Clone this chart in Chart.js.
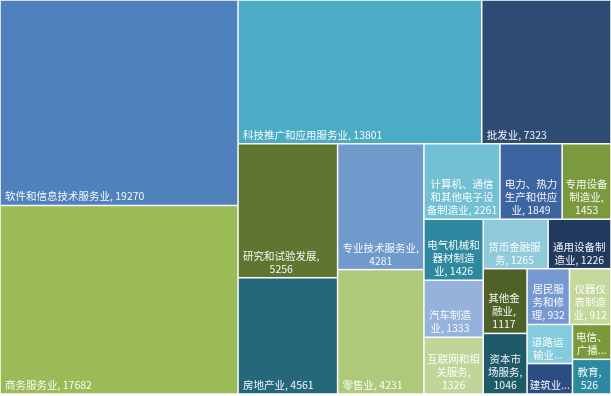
<!DOCTYPE html>
<html>
<head>
<meta charset="utf-8">
<script src="https://cdn.jsdelivr.net/npm/chart.js@4"></script>
<style>
    body { margin: 0; background: #ffffff; }
    #wrap { width: 611px; height: 396px; }
</style>
</head>
<body>
<div id="wrap"><canvas id="treeChart"></canvas></div>
<script>
// Industry categories and counts
const categories = [
    "软件和信息技术服务业", "商务服务业", "科技推广和应用服务业", "批发业",
    "研究和试验发展", "房地产业", "专业技术服务业", "零售业",
    "计算机、通信和其他电子设备制造业", "电力、热力生产和供应业", "专用设备制造业",
    "电气机械和器材制造业", "汽车制造业", "互联网和相关服务", "货币金融服务",
    "通用设备制造业", "其他金融业", "资本市场服务", "居民服务和修理", "仪器仪表制造业",
    "道路运输业", "建筑业", "电信、广播电视和卫星传输服务", "教育"
];
const values = [
    19270, 17682, 13801, 7323,
    5256, 4561, 4281, 4231,
    2261, 1849, 1453,
    1426, 1333, 1326, 1265,
    1226, 1117, 1046, 932, 912,
    700, 545, 530, 526
];
const colors = [
    "#4f81bd", "#9bbb59", "#4bacc6", "#2e4b74",
    "#5f7530", "#25687b", "#7099cc", "#afc97a",
    "#72c0d4", "#3b64a0", "#7b9a3e",
    "#2e889f", "#94b2dc", "#c0d597", "#8fcbdb",
    "#213a5f", "#4e6128", "#1f5a69", "#7898d2", "#c3d89a",
    "#84cbdc", "#2b4d82", "#7a9a3a", "#2c8aa0"
];

const FONT = "10.5px 'Noto Sans CJK SC', 'Noto Sans', sans-serif";
const LINE_H = 13;

// squarified layout, in pixel-proportional units
function worst(row, side) {
    const s = row.reduce((a, b) => a + b, 0);
    const mx = Math.max(...row), mn = Math.min(...row);
    return Math.max(side * side * mx / (s * s), (s * s) / (side * side * mn));
}

function squarify(areas, x, y, w, h) {
    const out = [];
    let i = 0;
    while (i < areas.length) {
        const side = Math.min(w, h);
        const row = [areas[i]];
        let j = i + 1;
        while (j < areas.length && worst(row.concat(areas[j]), side) < worst(row, side)) {
            row.push(areas[j]);
            j++;
        }
        const s = row.reduce((a, b) => a + b, 0);
        if (w >= h) {
            const cw = s / h;
            let cy = y;
            row.forEach(a => { out.push({ x: x, y: cy, w: cw, h: a / cw }); cy += a / cw; });
            x += cw; w -= cw;
        } else {
            const rh = s / w;
            let cx = x;
            row.forEach(a => { out.push({ x: cx, y: y, w: a / rh, h: rh }); cx += a / rh; });
            y += rh; h -= rh;
        }
        i = j;
    }
    return out;
}

function tokenize(name, value) {
    const tokens = [];
    for (const ch of name) {
        if ("、，,".includes(ch) && tokens.length) tokens[tokens.length - 1].s += ch;
        else tokens.push({ s: ch, sp: false });
    }
    tokens[tokens.length - 1].s += ",";
    tokens.push({ s: String(value), sp: true });
    return tokens;
}

function wrapLines(ctx, tokens, maxW) {
    const lines = [];
    let cur = "";
    tokens.forEach(t => {
        const piece = (t.sp && cur) ? " " + t.s : t.s;
        if (cur && ctx.measureText(cur + piece).width > maxW) {
            lines.push(cur);
            cur = t.s;
        } else {
            cur += piece;
        }
    });
    if (cur) lines.push(cur);
    return lines;
}

const treemapPlugin = {
    id: "treemapCells",
    afterDatasetsDraw(chart) {
        const ctx = chart.ctx;
        const xs = chart.scales.x, ys = chart.scales.y;
        const area = chart.chartArea;
        const W = area.right - area.left, H = area.bottom - area.top;
        const total = values.reduce((a, b) => a + b, 0);
        const order = values.map((v, i) => i).sort((a, b) => values[b] - values[a]);
        const rects = squarify(order.map(i => values[i] * W * H / total), 0, 0, W, H);

        const cells = rects.map((r, k) => {
            const i = order[k];
            return {
                i: i,
                x0: xs.getPixelForValue(r.x / W),
                x1: xs.getPixelForValue((r.x + r.w) / W),
                y0: ys.getPixelForValue(r.y / H),
                y1: ys.getPixelForValue((r.y + r.h) / H)
            };
        });

        ctx.save();
        cells.forEach(c => {
            ctx.fillStyle = colors[c.i];
            ctx.fillRect(c.x0 + 0.75, c.y0 + 0.75, c.x1 - c.x0 - 1.5, c.y1 - c.y0 - 1.5);
        });

        ctx.font = FONT;
        ctx.fillStyle = "rgba(255,255,255,0.95)";
        ctx.textBaseline = "middle";
        ctx.textAlign = "center";
        cells.forEach(c => {
            const w = c.x1 - c.x0, h = c.y1 - c.y0;
            const maxW = w - 4;
            let lines = wrapLines(ctx, tokenize(categories[c.i], values[c.i]), maxW);
            const maxLines = Math.max(1, Math.floor((h - 8) / LINE_H));
            if (lines.length > maxLines) {
                lines = lines.slice(0, maxLines);
                let last = lines[maxLines - 1].replace(/[,、\s]+$/, "");
                while (last && ctx.measureText(last + "...").width > maxW) last = last.slice(0, -1);
                lines[maxLines - 1] = last + "...";
            }
            const blockW = Math.max(...lines.map(l => ctx.measureText(l).width));
            const left = w > blockW + 10 ? c.x0 + 5 : c.x0 + (w - blockW) / 2;
            const cx = left + blockW / 2;
            ctx.save();
            ctx.beginPath();
            ctx.rect(c.x0 + 1, c.y0 + 1, w - 2, h - 2);
            ctx.clip();
            lines.forEach((l, n) => {
                const yy = c.y1 - 9 - (lines.length - 1 - n) * LINE_H;
                ctx.fillText(l, cx, yy);
            });
            ctx.restore();
        });
        ctx.restore();
    }
};

new Chart(document.getElementById("treeChart"), {
    type: "scatter",
    data: { datasets: [] },
    options: {
        responsive: true,
        maintainAspectRatio: false,
        animation: false,
        layout: { padding: { left: 0, right: 0, top: 0, bottom: 2 } },
        plugins: {
            legend: { display: false },
            tooltip: { enabled: false }
        },
        scales: {
            x: { type: "linear", min: 0, max: 1, display: false },
            y: { type: "linear", min: 0, max: 1, reverse: true, display: false }
        }
    },
    plugins: [treemapPlugin]
});
</script>
</body>
</html>
